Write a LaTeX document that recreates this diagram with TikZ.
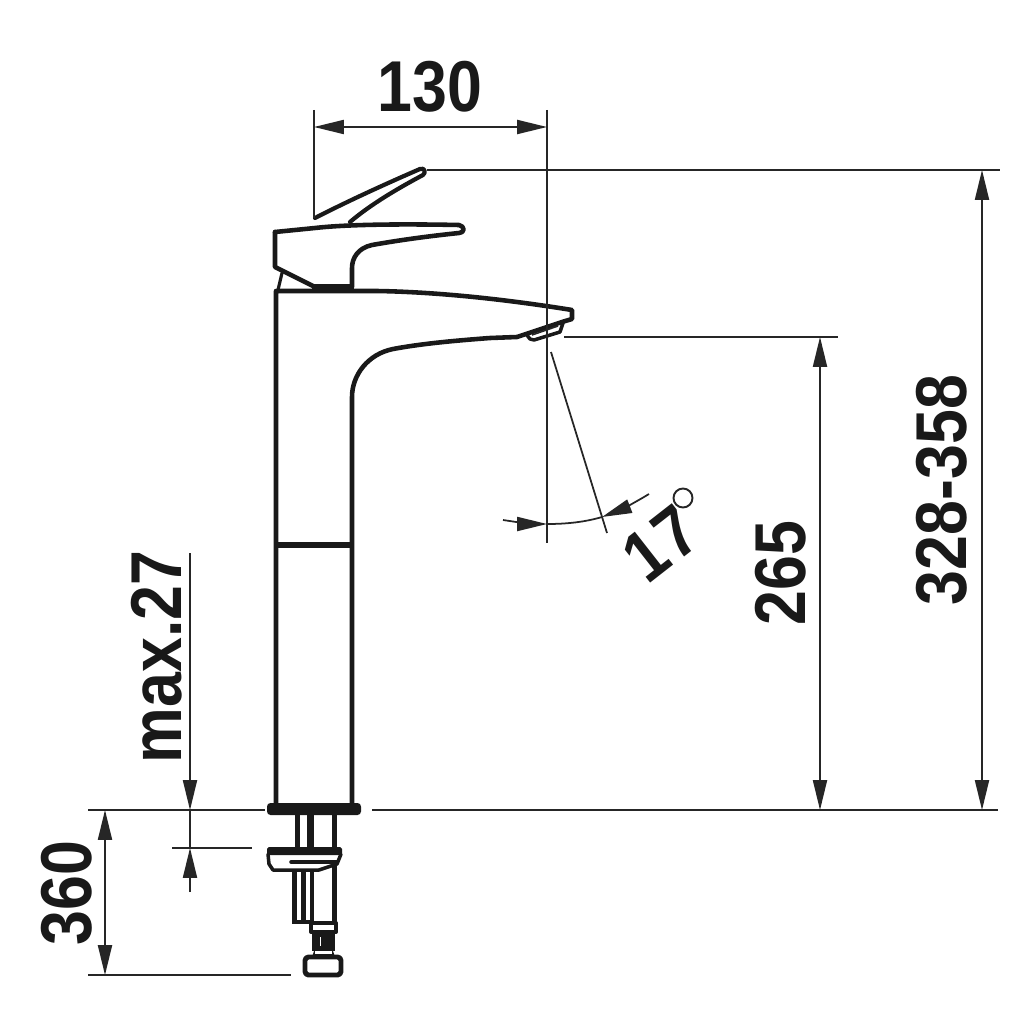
\documentclass[tikz,border=0pt]{standalone}
\usepackage{fontspec}
\setmainfont{Liberation Sans}
\usetikzlibrary{arrows.meta}
\tikzset{
  x=0.02cm,y=-0.02cm,
  contour/.style={line width=2.6pt,line join=round,line cap=round,draw=black!90},
  thinline/.style={line width=1pt,draw=black!85},
  dimline/.style={line width=1pt,draw=black!85,{Stealth[inset=0pt,length=17pt,width=8pt]}-{Stealth[inset=0pt,length=17pt,width=8pt]}},
  headend/.style={line width=1pt,draw=black!85,-{Stealth[inset=0pt,length=17pt,width=8pt]}},
  dimtext/.style={inner sep=0pt,text=black!90},
}
\newcommand{\dimlabel}[1]{\scalebox{.87}[1]{\fontsize{41}{41}\selectfont\bfseries #1}}
\begin{document}
\begin{tikzpicture}
\useasboundingbox (0,0) rectangle (1024,1024);
% lever
\draw[contour,line width=2.4pt] (315,218) .. controls (350,200) and (390,182) .. (420,169) .. controls (425,167) and (426,173) .. (423,175) .. controls (395,190) and (370,205) .. (350,222);
% handle
\draw[contour] (275,232) -- (315,228) .. controls (350,224) and (410,224) .. (459,225) .. controls (465,226) and (465,233) .. (459,233) .. controls (430,236) and (400,240) .. (372,245) .. controls (358,248) and (352,258) .. (352,268) -- (352,287);
\draw[contour] (275,232) -- (275,267) -- (313,286);
\fill[black!90] (312,284) rectangle (354,291);
\draw[contour,line width=1.8pt] (282,273) -- (278,290);
% body
\draw[contour] (276,803) -- (276,291) -- (377,291) .. controls (440,292) and (510,300) .. (572,310) -- (572,319) -- (562,322) -- (517,337) -- (490,338) .. controls (450,341) and (420,344) .. (393,349) .. controls (368,354) and (352,375) .. (352,397) -- (352,803);
\draw[contour,line width=2pt] (526,334) -- (530,339) -- (534,340) -- (560,332) -- (563,323);
\draw[line width=.9pt,black!85] (532,335) -- (558,326);
\draw[contour,line width=3pt,line cap=butt] (276,545) -- (352,545);
% base plate
\fill[black!90,rounded corners=2pt] (267,803) rectangle (361,815);
% upper stem
\fill[black!90] (295,815) rectangle (300,848);
\fill[black!90] (307,815) rectangle (314,848);
\fill[black!90] (332,815) rectangle (337,848);
% nut
\fill[black!90,rounded corners=1pt] (267,847) rectangle (342,855);
\draw[contour,line width=2pt] (268,854) -- (269,864) -- (273,870) -- (319,870) -- (337,864) -- (341,854);
\draw[contour,line width=2pt] (291,862) -- (337,862);
% lower stem
\fill[black!90] (292,870) rectangle (297,923);
\fill[black!90] (301,870) rectangle (306,923);
\fill[black!90] (310,870) rectangle (314,923);
\fill[black!90] (292,920) rectangle (314,924);
\fill[black!90] (332,862) rectangle (337,925);
% connector
\draw[contour,line width=2.2pt] (311,923) rectangle (336,932);
\fill[black!90] (312,932) rectangle (335,951);
\draw[line width=.5pt,white] (320,937) -- (320,946);
\fill[black!90] (314,951) -- (333,951) -- (335,957) -- (312,957) -- cycle;
\fill[white] (315,951) rectangle (332,954);
\draw[contour,line width=2.8pt,rounded corners=2pt] (305,957) rectangle (341,975);
% dimension anchors
\coordinate (extA) at (314,110);
\coordinate (extAb) at (314,218);
\coordinate (extB) at (547,110);
\coordinate (extBb) at (547,543);
\coordinate (dimAl) at (314,127);
\coordinate (dimAr) at (547,127);
\coordinate (topL) at (427,170);
\coordinate (topR) at (1000,170);
\coordinate (baseL) at (372,810);
\coordinate (baseR) at (998,810);
\coordinate (dimBt) at (982,170);
\coordinate (dimBb) at (982,810);
\coordinate (spL) at (564,337);
\coordinate (spR) at (838,337);
\coordinate (dimCt) at (820,337);
\coordinate (dimCb) at (820,810);
\coordinate (baseLL) at (88,810);
\coordinate (baseLR) at (265,810);
\coordinate (botL) at (88,975);
\coordinate (botR) at (291,975);
\coordinate (dimDt) at (105,810);
\coordinate (dimDb) at (105,975);
\coordinate (maxT) at (190,553);
\coordinate (maxA) at (190,810);
\coordinate (maxB) at (190,848);
\coordinate (maxE) at (190,892);
\coordinate (maxL) at (172,848);
\coordinate (maxR) at (252,848);
\draw[thinline] (extA) -- (extAb);
\draw[thinline] (extB) -- (extBb);
\draw[dimline] (dimAl) -- (dimAr);
\draw[thinline] (topL) -- (topR);
\draw[thinline] (baseL) -- (baseR);
\draw[dimline] (dimBt) -- (dimBb);
\draw[thinline] (spL) -- (spR);
\draw[dimline] (dimCt) -- (dimCb);
\draw[thinline] (baseLL) -- (baseLR);
\draw[thinline] (botL) -- (botR);
\draw[dimline] (dimDt) -- (dimDb);
\draw[headend] (maxT) -- (maxA);
\draw[thinline] (maxA) -- (maxB);
\draw[headend] (maxE) -- (maxB);
\draw[thinline] (maxL) -- (maxR);
% angle
\draw[thinline] (551,352) -- (607,533);
\coordinate (angA) at (503,520);
\coordinate (angB) at (547,524);
\coordinate (angC) at (602,517);
\coordinate (angD) at (649,494);
\draw[headend] (angA) .. controls (516,522) and (532,524) .. (angB);
\draw[thinline] (angB) .. controls (567,524) and (585,522) .. (angC);
\draw[headend] (angD) .. controls (636,502) and (620,510) .. (angC);
% labels
\node[dimtext] (l130) at (430,87) {\dimlabel{130}};
\node[dimtext,rotate=90] (l328) at (942,490) {\dimlabel{328-358}};
\node[dimtext,rotate=90] (l265) at (781,573) {\dimlabel{265}};
\node[dimtext,rotate=90] (lmax) at (157,657) {\dimlabel{max.27}};
\node[dimtext,rotate=90] (l360) at (67,893) {\dimlabel{360}};
\node[dimtext,rotate=38] (l17) at (661,544) {\dimlabel{1\kern2pt 7}};
\draw[line width=1.1pt,black!85] (683,498) circle (9.5);
\end{tikzpicture}
\end{document}
